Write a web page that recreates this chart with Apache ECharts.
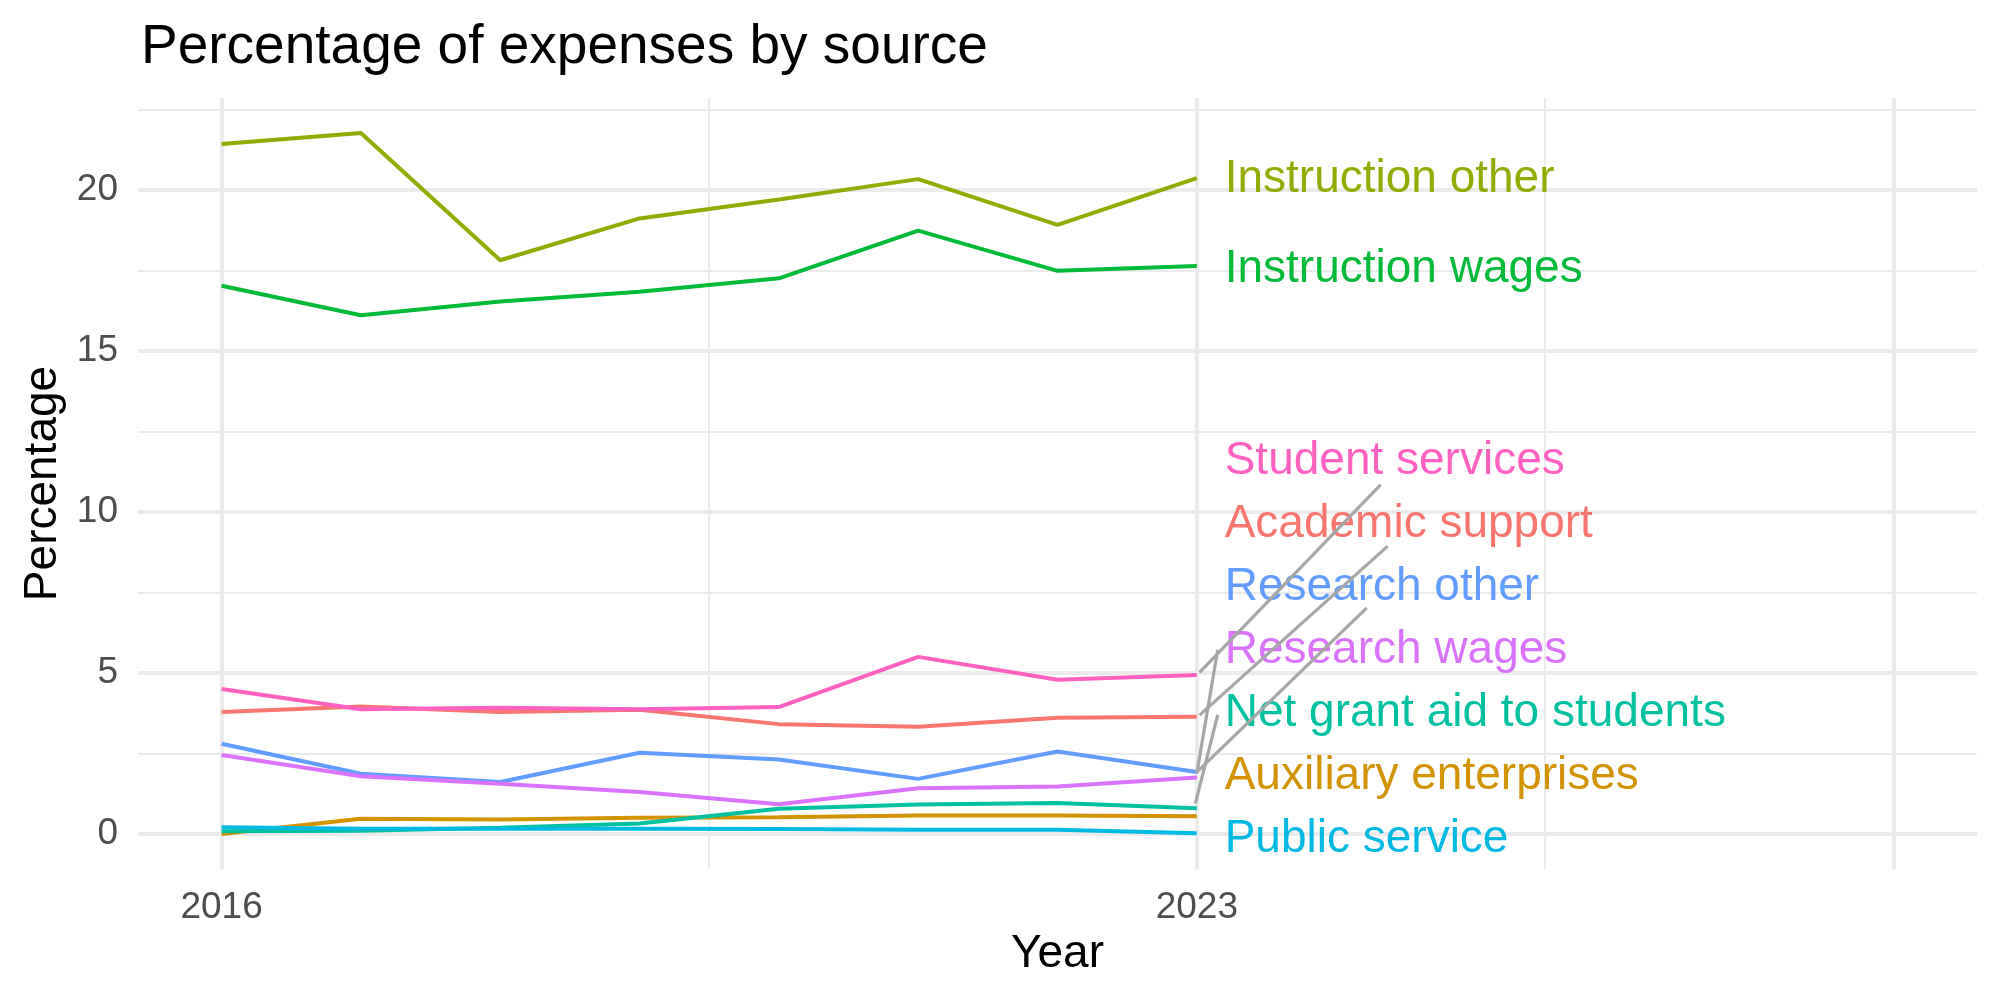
<!DOCTYPE html>
<html>
<head>
<meta charset="utf-8">
<script src="https://cdn.jsdelivr.net/npm/echarts@6/dist/echarts.min.js"></script>
<style>
html,body{margin:0;padding:0;background:#fff;}
#chart{width:2000px;height:1000px;}
</style>
</head>
<body>
<div id="chart"></div>
<script>
// ---- data ----
const years = [2016, 2017, 2018, 2019, 2020, 2021, 2022, 2023];
const seriesNames = ["Academic support", "Auxiliary enterprises", "Instruction other", "Instruction wages",
  "Net grant aid to students", "Public service", "Research other", "Research wages", "Student services"];
const seriesColors = ["#F8766D", "#D39200", "#93AA00", "#00BA38", "#00C19F", "#00B9E3", "#619CFF", "#DB72FB", "#FF61C3"];
const academicSupport    = [3.79, 3.96, 3.79, 3.86, 3.41, 3.33, 3.61, 3.64];
const auxiliaryEnterprises = [0.00, 0.47, 0.45, 0.50, 0.52, 0.57, 0.57, 0.55];
const instructionOther   = [21.43, 21.77, 17.82, 19.12, 19.71, 20.34, 18.92, 20.37];
const instructionWages   = [17.03, 16.11, 16.54, 16.84, 17.26, 18.74, 17.49, 17.64];
const netGrantAid        = [0.08, 0.10, 0.19, 0.32, 0.78, 0.91, 0.96, 0.80];
const publicService      = [0.21, 0.16, 0.16, 0.16, 0.15, 0.13, 0.13, 0.02];
const researchOther      = [2.80, 1.87, 1.61, 2.52, 2.31, 1.71, 2.56, 1.92];
const researchWages      = [2.45, 1.79, 1.56, 1.30, 0.92, 1.42, 1.47, 1.75];
const studentServices    = [4.50, 3.87, 3.92, 3.87, 3.94, 5.50, 4.79, 4.94];
const seriesValues = [academicSupport, auxiliaryEnterprises, instructionOther, instructionWages,
  netGrantAid, publicService, researchOther, researchWages, studentServices];

// repelled label positions (data coordinates), same order as seriesNames
const labelX = 2023.2;
const labelY = [9.61, 1.79, 20.32, 17.54, 3.74, -0.18, 7.65, 5.69, 11.56];
// connector segments [[x1, y1], [x2, y2]] in data coordinates
const segments = [
  [[2023.02, 5.02], [2024.32, 10.85]],
  [[2023.02, 3.69], [2024.37, 8.94]],
  [[2023.00, 1.92], [2024.22, 7.02]],
  [[2023.00, 1.88], [2023.15, 5.72]],
  [[2022.99, 0.95], [2023.15, 3.70]]
];

// axis breaks
const xMajorBreaks = [2016, 2023, 2028];
const xMinorBreaks = [2019.5, 2025.5];
const xLabelBreaks = [2016, 2023];
const yMajorBreaks = [0, 5, 10, 15, 20];
const yMinorBreaks = [2.5, 7.5, 12.5, 17.5, 22.5];
const xRange = [2015.4, 2028.6];
const yRange = [-1.09, 22.86];

const FONT = "Liberation Sans, Arial, sans-serif";
const chart = echarts.init(document.getElementById('chart'));

const gridLines = [];
xMajorBreaks.forEach(v => gridLines.push({xAxis: v, lineStyle: {width: 4}}));
xMinorBreaks.forEach(v => gridLines.push({xAxis: v, lineStyle: {width: 2}}));
yMajorBreaks.forEach(v => gridLines.push({yAxis: v, lineStyle: {width: 4}}));
yMinorBreaks.forEach(v => gridLines.push({yAxis: v, lineStyle: {width: 2}}));

const series = [{
  type: 'line', data: [], silent: true, z: 1,
  markLine: {
    silent: true, symbol: ['none', 'none'], animation: false, z: 1,
    label: {show: false},
    lineStyle: {color: '#EBEBEB', type: 'solid', width: 4},
    emphasis: {disabled: true},
    data: gridLines
  }
}];
seriesNames.forEach((name, i) => {
  series.push({
    name: name, type: 'line', z: 3,
    data: years.map((y, j) => [y, seriesValues[i][j]]),
    showSymbol: false, symbol: 'none',
    lineStyle: {color: seriesColors[i], width: 4},
    itemStyle: {color: seriesColors[i]},
    emphasis: {disabled: true}
  });
});
series.push({
  type: 'scatter', z: 4, symbolSize: 0, silent: true,
  itemStyle: {opacity: 1},
  data: seriesNames.map((name, i) => ({
    value: [labelX, labelY[i]], name: name,
    label: {color: seriesColors[i]}
  })),
  label: {
    show: true, position: 'right', distance: 0, opacity: 1,
    formatter: p => p.name, textBorderWidth: 0,
    fontSize: 46, fontFamily: FONT, align: 'left', verticalAlign: 'middle'
  },
  emphasis: {disabled: true}
});
series.push({
  type: 'lines', coordinateSystem: 'cartesian2d', z: 5, silent: true,
  data: segments.map(s => ({coords: s})),
  lineStyle: {color: '#A6A6A6', width: 3.2, opacity: 1},
  symbol: ['none', 'none']
});

chart.setOption({
  animation: false,
  backgroundColor: '#fff',
  title: {
    text: 'Percentage of expenses by source',
    left: 136, top: 15,
    textStyle: {fontSize: 55, fontWeight: 'normal', color: '#000', fontFamily: FONT}
  },
  grid: {left: 138, top: 98, width: 1839, height: 771, containLabel: false},
  xAxis: {
    type: 'value', min: xRange[0], max: xRange[1],
    name: 'Year', nameLocation: 'middle', nameGap: 61,
    nameTextStyle: {fontSize: 46, color: '#000', fontFamily: FONT},
    axisLine: {show: false}, axisTick: {show: false}, splitLine: {show: false},
    axisLabel: {customValues: xLabelBreaks, color: '#4D4D4D', fontSize: 37, fontFamily: FONT, margin: 20,
      formatter: v => String(v)}
  },
  yAxis: {
    type: 'value', min: yRange[0], max: yRange[1],
    name: 'Percentage', nameLocation: 'middle', nameGap: 68, nameRotate: 90,
    nameTextStyle: {fontSize: 46, color: '#000', fontFamily: FONT},
    axisLine: {show: false}, axisTick: {show: false}, splitLine: {show: false},
    axisLabel: {customValues: yMajorBreaks, color: '#4D4D4D', fontSize: 37, fontFamily: FONT, margin: 20,
      formatter: v => String(v)}
  },
  series: series
});
</script>
</body>
</html>
